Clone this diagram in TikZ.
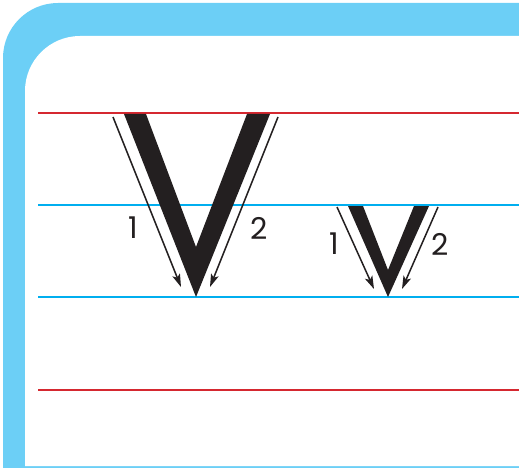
\documentclass[tikz,border=0pt]{standalone}
\usepackage{fontspec}
\setmainfont{Poppins}
\usetikzlibrary{arrows.meta}
\definecolor{frameblue}{RGB}{108,207,246}
\definecolor{lineblue}{RGB}{0,174,239}
\definecolor{linered}{RGB}{213,40,48}
\definecolor{vblack}{RGB}{35,31,32}
\tikzset{
  guide/.style={line width=2.8pt},
  stroke/.style={line width=1.5pt, draw=vblack, -{Stealth[length=13pt,width=8pt,inset=3pt]}},
  num/.style={font=\fontsize{30}{30}\selectfont, text=vblack, inner sep=0pt},
}
\begin{document}
\begin{tikzpicture}[x=1pt,y=-1pt]
\useasboundingbox (0,0) rectangle (519,468);
% frame
\fill[frameblue] (3,468) -- (3,58) arc[start angle=180,end angle=270,radius=55] -- (519,3) -- (519,468) -- cycle;
\fill[white] (25,466) -- (25,91) arc[start angle=180,end angle=270,radius=55] -- (519,36) -- (519,466) -- cycle;
% guide lines
\coordinate (r1a) at (38,113); \coordinate (r1b) at (519,113);
\coordinate (b1a) at (38,205); \coordinate (b1b) at (519,205);
\coordinate (b2a) at (38,297); \coordinate (b2b) at (519,297);
\coordinate (r2a) at (38,390); \coordinate (r2b) at (519,390);
\draw[guide,linered] (r1a) -- (r1b);
\draw[guide,lineblue] (b1a) -- (b1b);
\draw[guide,lineblue] (b2a) -- (b2b);
\draw[guide,linered] (r2a) -- (r2b);
% big V
\coordinate (V1) at (124,114); \coordinate (V2) at (146,114);
\coordinate (V3) at (196,247);
\coordinate (V4) at (247,114); \coordinate (V5) at (270,114);
\coordinate (V6) at (196,297);
\fill[vblack] (V1) -- (V2) -- (V3) -- (V4) -- (V5) -- (V6) -- cycle;
\coordinate (a1s) at (113,117); \coordinate (a1e) at (181,287);
\coordinate (a2s) at (278,117); \coordinate (a2e) at (210,287);
\draw[stroke] (a1s) -- (a1e);
\draw[stroke] (a2s) -- (a2e);
\node[num] (n1) at (133,228) {1};
\node[num] (n2) at (259,228) {2};
% small V
\coordinate (W1) at (348,206); \coordinate (W2) at (363,206);
\coordinate (W3) at (388,270);
\coordinate (W4) at (414,206); \coordinate (W5) at (429,206);
\coordinate (W6) at (388,297);
\fill[vblack] (W1) -- (W2) -- (W3) -- (W4) -- (W5) -- (W6) -- cycle;
\coordinate (c1s) at (337,207); \coordinate (c1e) at (374,289);
\coordinate (c2s) at (438,207); \coordinate (c2e) at (402,289);
\draw[stroke] (c1s) -- (c1e);
\draw[stroke] (c2s) -- (c2e);
\node[num] (m1) at (334,244) {1};
\node[num] (m2) at (440,244) {2};
\end{tikzpicture}
\end{document}
